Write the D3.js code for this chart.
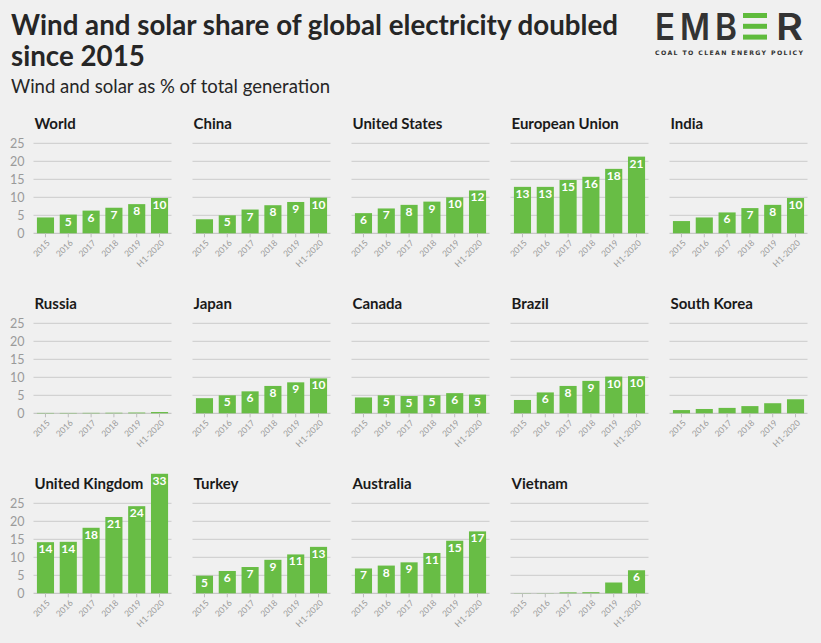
<!DOCTYPE html>
<html>
<head>
<meta charset="utf-8">
<script src="https://cdn.jsdelivr.net/npm/d3@7"></script>
<style>
  html, body { margin: 0; padding: 0; background: #f0f0f0; }
  svg { display: block; font-family: Lato, "Open Sans", sans-serif; }
</style>
</head>
<body>
<svg id="chart" width="821" height="643"></svg>
<script>
// ---------- DATA ----------
const years = ["2015", "2016", "2017", "2018", "2019", "H1-2020"];
const countries = ["World", "China", "United States", "European Union", "India",
  "Russia", "Japan", "Canada", "Brazil", "South Korea",
  "United Kingdom", "Turkey", "Australia", "Vietnam"];
const world         = [4.4, 5.2, 6.3, 7.1, 8.1, 9.8];
const china         = [3.9, 5.0, 6.6, 7.8, 8.7, 9.9];
const unitedStates  = [5.6, 6.9, 7.9, 8.8, 10.0, 11.9];
const europeanUnion = [12.9, 12.9, 14.8, 15.7, 17.9, 21.3];
const india         = [3.4, 4.4, 5.8, 7.0, 7.9, 9.8];
const russia        = [0.1, 0.1, 0.12, 0.15, 0.2, 0.35];
const japan         = [4.2, 5.0, 6.1, 7.6, 8.6, 9.7];
const canada        = [4.4, 5.0, 4.8, 5.0, 5.6, 5.2];
const brazil        = [3.7, 5.8, 7.6, 9.0, 10.2, 10.3];
const southKorea    = [0.9, 1.2, 1.5, 2.0, 2.8, 3.9];
const unitedKingdom = [14.2, 14.3, 18.2, 21.2, 24.2, 33.2];
const turkey        = [4.9, 6.2, 7.3, 9.3, 10.8, 12.9];
const australia     = [6.9, 7.7, 8.6, 11.2, 14.6, 17.2];
const vietnam       = [0.05, 0.05, 0.25, 0.3, 3.0, 6.4];
const seriesValues = [world, china, unitedStates, europeanUnion, india,
  russia, japan, canada, brazil, southKorea,
  unitedKingdom, turkey, australia, vietnam];
const yTicks = [0, 5, 10, 15, 20, 25];

// ---------- STYLE / LAYOUT ----------
const GREEN = "#68bd45";
const GRID = "#cbcbcb";
const AXIS_TEXT = "#9a9a9a";
const COLS = 5;
const panelX0 = 33.5, colStep = 159, plotW = 138;
const rowTop0 = 143.3, rowStep = 180, plotH = 90;

const svg = d3.select("#chart");
svg.append("rect").attr("width", 821).attr("height", 643).attr("fill", "#f0f0f0");

function squeeze(sel, factor) {
  sel.each(function () {
    const w = this.getComputedTextLength();
    d3.select(this).attr("textLength", w * factor).attr("lengthAdjust", "spacingAndGlyphs");
  });
}

// ---------- TITLES ----------
const t1 = svg.append("text").attr("x", 11).attr("y", 35)
  .attr("font-size", 28).attr("font-weight", 700).attr("fill", "#262626")
  .text("Wind and solar share of global electricity doubled");
const t2 = svg.append("text").attr("x", 11).attr("y", 66)
  .attr("font-size", 28).attr("font-weight", 700).attr("fill", "#262626")
  .text("since 2015");
const titleFactor = 607 / t1.node().getComputedTextLength();
squeeze(t1, titleFactor);
squeeze(t2, titleFactor);

const sub = svg.append("text").attr("x", 11).attr("y", 92.5)
  .attr("font-size", 19.5).attr("font-weight", 400).attr("fill", "#262626")
  .text("Wind and solar as % of total generation");
squeeze(sub, 319 / sub.node().getComputedTextLength());

// ---------- LOGO ----------
const logo = svg.append("g");
const logoLetters = [["E", 655, 20], ["M", 680, 30], ["B", 715, 22], ["R", 776, 27]];
logoLetters.forEach(([ch, x, w]) => {
  logo.append("text").attr("x", x).attr("y", 39.5)
    .attr("font-family", "Inter, 'Noto Sans', sans-serif")
    .attr("font-size", 37).attr("font-weight", 600).attr("fill", "#333333")
    .attr("textLength", w).attr("lengthAdjust", "spacingAndGlyphs")
    .text(ch);
});
[13, 23.8, 34.6].forEach(y => {
  logo.append("rect").attr("x", 743).attr("y", y).attr("width", 24).attr("height", 5)
    .attr("fill", "#5fbb3c");
});
logo.append("text").attr("x", 655).attr("y", 54.5)
  .attr("font-family", "'DejaVu Sans', sans-serif")
  .attr("font-size", 6.2).attr("font-weight", 700).attr("fill", "#333333")
  .attr("textLength", 148).attr("lengthAdjust", "spacing")
  .text("COAL TO CLEAN ENERGY POLICY");

// ---------- PANELS ----------
countries.forEach((name, i) => {
  const values = seriesValues[i];
  const col = i % COLS, row = Math.floor(i / COLS);
  const x0 = panelX0 + col * colStep;
  const top = rowTop0 + row * rowStep;

  const x = d3.scaleBand().domain(years).range([x0, x0 + plotW])
    .paddingInner(0.25).paddingOuter(0.15);
  const y = d3.scaleLinear().domain([0, 25]).range([top + plotH, top]);

  const g = svg.append("g");

  // gridlines
  g.selectAll("line.grid").data(yTicks).join("line")
    .attr("x1", x0).attr("x2", x0 + plotW)
    .attr("y1", d => y(d)).attr("y2", d => y(d))
    .attr("stroke", d => d === 0 ? "#bdbdbd" : GRID).attr("stroke-width", 1);

  // y axis labels for first column
  if (col === 0) {
    const ya = d3.axisLeft(y).tickValues(yTicks).tickSize(0).tickPadding(9);
    const ag = g.append("g").attr("transform", `translate(${x0},0)`).call(ya);
    ag.select(".domain").remove();
    ag.selectAll("text").attr("font-family", "Lato, sans-serif")
      .attr("font-size", 12.5).attr("fill", AXIS_TEXT);
  }

  // title
  g.append("text").attr("x", x0 + 1).attr("y", top - 14)
    .attr("font-size", 15).attr("font-weight", 700).attr("fill", "#1a1a1a")
    .text(name);

  // bars
  g.selectAll("rect.bar").data(values.map((v, k) => ({ v, yr: years[k] }))).join("rect")
    .attr("x", d => x(d.yr)).attr("width", x.bandwidth())
    .attr("y", d => y(d.v)).attr("height", d => y(0) - y(d.v))
    .attr("fill", GREEN);

  // bar labels
  g.selectAll("text.lbl").data(values.map((v, k) => ({ v, yr: years[k] }))
      .filter(d => Math.round(d.v) >= 5)).join("text")
    .attr("x", d => x(d.yr) + x.bandwidth() / 2)
    .attr("y", d => y(d.v) + 11)
    .attr("text-anchor", "middle")
    .attr("font-size", 12).attr("font-weight", 700).attr("fill", "#ffffff")
    .text(d => Math.round(d.v));

  // x axis
  const xa = d3.axisBottom(x).tickSize(4).tickSizeOuter(0);
  const xg = g.append("g").attr("transform", `translate(0,${y(0)})`).call(xa);
  xg.select(".domain").remove();
  xg.selectAll(".tick line").attr("stroke", "#bdbdbd");
  xg.selectAll(".tick text")
    .attr("font-family", "Lato, sans-serif")
    .attr("font-size", 8.5).attr("fill", AXIS_TEXT)
    .attr("text-anchor", "end")
    .attr("x", 0).attr("y", 0).attr("dy", "0.35em")
    .attr("transform", "translate(3,8) rotate(-45)");
});
</script>
</body>
</html>
